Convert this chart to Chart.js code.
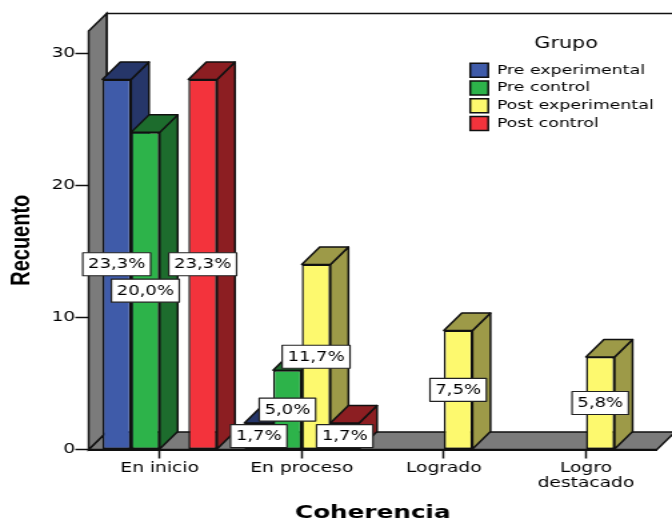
<!DOCTYPE html>
<html>
<head>
<meta charset="utf-8">
<script src="https://cdn.jsdelivr.net/npm/chart.js@4"></script>
<style>
  html, body { margin: 0; padding: 0; background: #fff; overflow: hidden; }
  #wrap { width: 672px; height: 520px; overflow: hidden; }
  /* the source picture is a soft raster stretched sideways, so the canvas is too */
  #chart { display: block; transform-origin: 0 0; transform: scaleX(1.3333); filter: blur(0.4px); }
</style>
</head>
<body>
<div id="wrap"><canvas id="chart" width="504" height="520"></canvas></div>
<script>
const categories = ['En inicio', 'En proceso', 'Logrado', ['Logro', 'destacado']];

const preExperimental = [28, 2, 0, 0];
const preControl = [24, 6, 0, 0];
const postExperimental = [0, 14, 9, 7];
const postControl = [28, 2, 0, 0];

const preExperimentalPct = ['23,3%', '1,7%', '', ''];
const preControlPct = ['20,0%', '5,0%', '', ''];
const postExperimentalPct = ['', '11,7%', '7,5%', '5,8%'];
const postControlPct = ['23,3%', '1,7%', '', ''];

const pctLabels = [preExperimentalPct, preControlPct, postExperimentalPct, postControlPct];

const frontColors = ['#3f5ba9', '#2db34a', '#fdf96e', '#f3333c'];
const sideColors = ['#263669', '#1d6c2d', '#9d9a48', '#8c1e22'];

const depthX = 13.5;
const depthY = 17.5;
const wallColor = '#7b7b7b';
const lineColor = '#111';

function poly(ctx, pts, fill) {
    ctx.beginPath();
    pts.forEach((p, i) => i ? ctx.lineTo(p[0], p[1]) : ctx.moveTo(p[0], p[1]));
    ctx.closePath();
    ctx.fillStyle = fill;
    ctx.fill();
    ctx.stroke();
}

const box3d = {
    id: 'box3d',
    // grey side wall, floor and the back wall outline
    beforeDatasetsDraw(chart) {
        const ctx = chart.ctx;
        const { left, right, top, bottom } = chart.chartArea;
        ctx.save();
        ctx.strokeStyle = lineColor;
        ctx.lineWidth = 1.5;
        ctx.beginPath();
        ctx.moveTo(left + depthX, bottom - depthY);
        ctx.lineTo(left + depthX, top - depthY);
        ctx.lineTo(right + depthX, top - depthY);
        ctx.stroke();
        poly(ctx, [[left, bottom], [right, bottom], [right + depthX, bottom - depthY], [left + depthX, bottom - depthY]], wallColor);
        poly(ctx, [[left, bottom], [left, top], [left + depthX, top - depthY], [left + depthX, bottom - depthY]], wallColor);
        ctx.restore();
    },
    beforeDatasetDraw() {
        return false;
    },
    // bars are painted left to right so each front covers its neighbour's side
    afterDatasetsDraw(chart) {
        const ctx = chart.ctx;
        const metas = chart.data.datasets.map((d, i) => chart.getDatasetMeta(i));
        ctx.save();
        categories.forEach((c, ci) => {
            metas.forEach((meta, di) => {
                const bar = meta.data[ci];
                if (!chart.data.datasets[di].data[ci]) return;
                const x0 = bar.x - bar.width / 2;
                const x1 = bar.x + bar.width / 2;
                ctx.strokeStyle = lineColor;
                ctx.lineWidth = 1.5;
                ctx.lineJoin = 'round';
                poly(ctx, [[x1, bar.y], [x1 + depthX, bar.y - depthY], [x1 + depthX, bar.base - depthY], [x1, bar.base]], sideColors[di]);
                poly(ctx, [[x0, bar.y], [x1, bar.y], [x1 + depthX, bar.y - depthY], [x0 + depthX, bar.y - depthY]], sideColors[di]);
                bar.draw(ctx);
            });
        });
        ctx.font = '13.5px "DejaVu Sans"';
        ctx.textAlign = 'center';
        ctx.textBaseline = 'middle';
        metas.forEach((meta, di) => {
            meta.data.forEach((bar, ci) => {
                const text = pctLabels[di][ci];
                if (!text) return;
                const midY = (bar.y + bar.base) / 2;
                const w = ctx.measureText(text).width + 8;
                ctx.fillStyle = '#fff';
                ctx.strokeStyle = '#222';
                ctx.lineWidth = 1.2;
                ctx.fillRect(bar.x - w / 2, midY - 11.5, w, 23);
                ctx.strokeRect(bar.x - w / 2, midY - 11.5, w, 23);
                ctx.fillStyle = '#000';
                ctx.fillText(text, bar.x, midY + 0.5);
            });
        });
        ctx.restore();
    },
    // built-in legend floats inside the plot, top right
    beforeDraw(chart) {
        const lg = chart.legend;
        const w = lg.width, h = lg.height;
        lg.left = 349;
        lg.top = 36;
        lg.right = lg.left + w;
        lg.bottom = lg.top + h;
    }
};

function makeSet(label, data, i) {
    return {
        label: label,
        data: data,
        backgroundColor: frontColors[i],
        borderColor: lineColor,
        borderWidth: 1.5,
        borderSkipped: false
    };
}

new Chart(document.getElementById('chart').getContext('2d'), {
    type: 'bar',
    data: {
        labels: categories,
        datasets: [
            makeSet('Pre experimental', preExperimental, 0),
            makeSet('Pre control', preControl, 1),
            makeSet('Post experimental', postExperimental, 2),
            makeSet('Post control', postControl, 3)
        ]
    },
    plugins: [box3d],
    options: {
        responsive: false,
        animation: false,
        events: [],
        layout: { padding: { top: 31, right: 11.25 } },
        categoryPercentage: 0.807,
        barPercentage: 1,
        scales: {
            x: {
                afterFit: (s) => { s.height = 70.5; },
                grid: { offset: false, drawOnChartArea: false, tickLength: 9, tickColor: lineColor, tickWidth: 1.5 },
                border: { color: lineColor, width: 2 },
                ticks: { color: '#000', font: { family: 'DejaVu Sans', size: 14, lineHeight: 1.03 }, padding: 3, maxRotation: 0, autoSkip: false },
                title: { display: true, text: 'Coherencia', color: '#000', font: { family: 'DejaVu Sans', size: 18.5, weight: 'bold' }, padding: { top: 0, bottom: -4.5 } }
            },
            y: {
                min: 0,
                max: 31.67,
                afterFit: (s) => { s.width = 66.5; },
                grid: { drawOnChartArea: false, tickLength: 10, tickColor: lineColor, tickWidth: 1.5 },
                border: { color: lineColor, width: 1.5 },
                ticks: { stepSize: 10, includeBounds: false, color: '#000', font: { family: 'DejaVu Sans', size: 14 }, padding: 0 },
                title: { display: true, text: 'Recuento', color: '#000', font: { family: 'Liberation Sans', size: 20, weight: 'bold' }, padding: { top: 4, bottom: 0 } }
            }
        },
        plugins: {
            tooltip: { enabled: false },
            legend: {
                position: 'chartArea',
                align: 'start',
                title: { display: true, text: 'Grupo', color: '#000', font: { family: 'DejaVu Sans', size: 15.5 }, padding: { top: 0, bottom: 5 } },
                labels: { color: '#000', boxWidth: 13.5, boxHeight: 14, padding: 3.7, font: { family: 'DejaVu Sans', size: 13 } }
            }
        }
    }
});
</script>
</body>
</html>
